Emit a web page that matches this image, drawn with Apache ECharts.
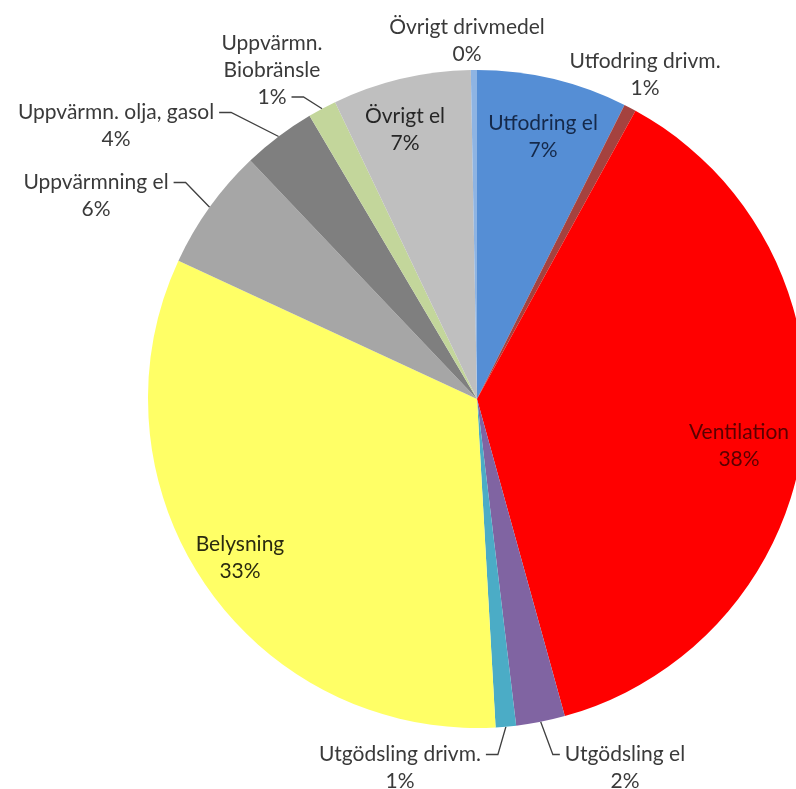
<!DOCTYPE html>
<html><head><meta charset="utf-8">
<script src="https://cdn.jsdelivr.net/npm/echarts@6/dist/echarts.min.js"></script>
<style>html,body{margin:0;padding:0;background:#fff}#c{width:796px;height:789px}</style>
</head><body><div id="c"></div>
<script>
// ---- data ----
const categories = ['Utfodring el', 'Utfodring drivm.', 'Ventilation', 'Utgödsling el', 'Utgödsling drivm.', 'Belysning', 'Uppvärmning el', 'Uppvärmn. olja, gasol', 'Uppvärmn.\nBiobränsle', 'Övrigt el', 'Övrigt drivmedel'];
const shares = [7.4, 0.6, 37.7, 2.4, 1.0, 32.8, 6.0, 3.6, 1.4, 6.8, 0.3];

// ---- styles ----
const colors = ['#558ED5', '#A5423F', '#FF0000', '#8064A2', '#4BACC6', '#FFFF66', '#A6A6A6', '#7F7F7F', '#C3D69B', '#BFBFBF', '#8EB4E3'];
const FONT = 'Lato';
const FS = 21;
const LH = 27;
// label block centres and leader-line attachment
const labelPlacement = [
  {x: 543, y: 137, color: '#15294a'},
  {x: 645, y: 75},
  {x: 739, y: 446, color: '#5a0000'},
  {x: 625, y: 768, line: 'left', attach: 0},
  {x: 400, y: 768, line: 'right', attach: 0},
  {x: 240, y: 558, color: '#2a2a10'},
  {x: 96, y: 196, line: 'right', attach: 0},
  {x: 116, y: 126, line: 'right', attach: 0},
  {x: 272, y: 70, line: 'right', attach: 2},
  {x: 405, y: 130, color: '#262626'},
  {x: 467, y: 41}
];

const ctx = document.createElement('canvas').getContext('2d');
ctx.font = FS + 'px ' + FONT;
function textW(s) { return ctx.measureText(s).width; }

const chart = echarts.init(document.getElementById('c'), null, {renderer: 'canvas'});
const labelTexts = [];

const data = categories.map((name, i) => ({
  name: name,
  value: shares[i],
  itemStyle: {color: colors[i]},
  label: {color: labelPlacement[i].color || '#3a3a3a'},
  labelLine: {show: !!labelPlacement[i].line}
}));

chart.setOption({
  animation: false,
  series: [{
    type: 'pie',
    center: [477, 399],
    radius: 329,
    startAngle: 90,
    clockwise: true,
    avoidLabelOverlap: false,
    silent: true,
    itemStyle: {borderWidth: 0},
    label: {
      show: true,
      position: 'outside',
      fontFamily: FONT,
      fontSize: FS,
      lineHeight: LH,
      align: 'center',
      formatter: function (p) {
        const t = p.name + '\n' + Math.round(p.percent) + '%';
        labelTexts[p.dataIndex] = t;
        return t;
      }
    },
    labelLine: {show: true, length: 10, length2: 10, lineStyle: {color: '#404040', width: 1.3}},
    labelLayout: function (p) {
      const cfg = labelPlacement[p.dataIndex];
      const res = {x: cfg.x, y: cfg.y, align: 'center', verticalAlign: 'middle'};
      if (cfg.line && p.labelLinePoints) {
        const lines = (labelTexts[p.dataIndex] || '').split('\n');
        const w = textW(lines[cfg.attach] || '');
        const top = cfg.y - lines.length * LH / 2;
        const ly = top + LH * (cfg.attach + 0.5);
        const start = p.labelLinePoints[0];
        let ex, bx;
        if (cfg.line === 'right') { ex = cfg.x + w / 2 + 5; bx = ex + 12; }
        else { ex = cfg.x - w / 2 - 5; bx = ex - 7; }
        res.labelLinePoints = [start, [bx, ly], [ex, ly]];
      }
      return res;
    },
    data: data
  }]
});
</script>
</body></html>
